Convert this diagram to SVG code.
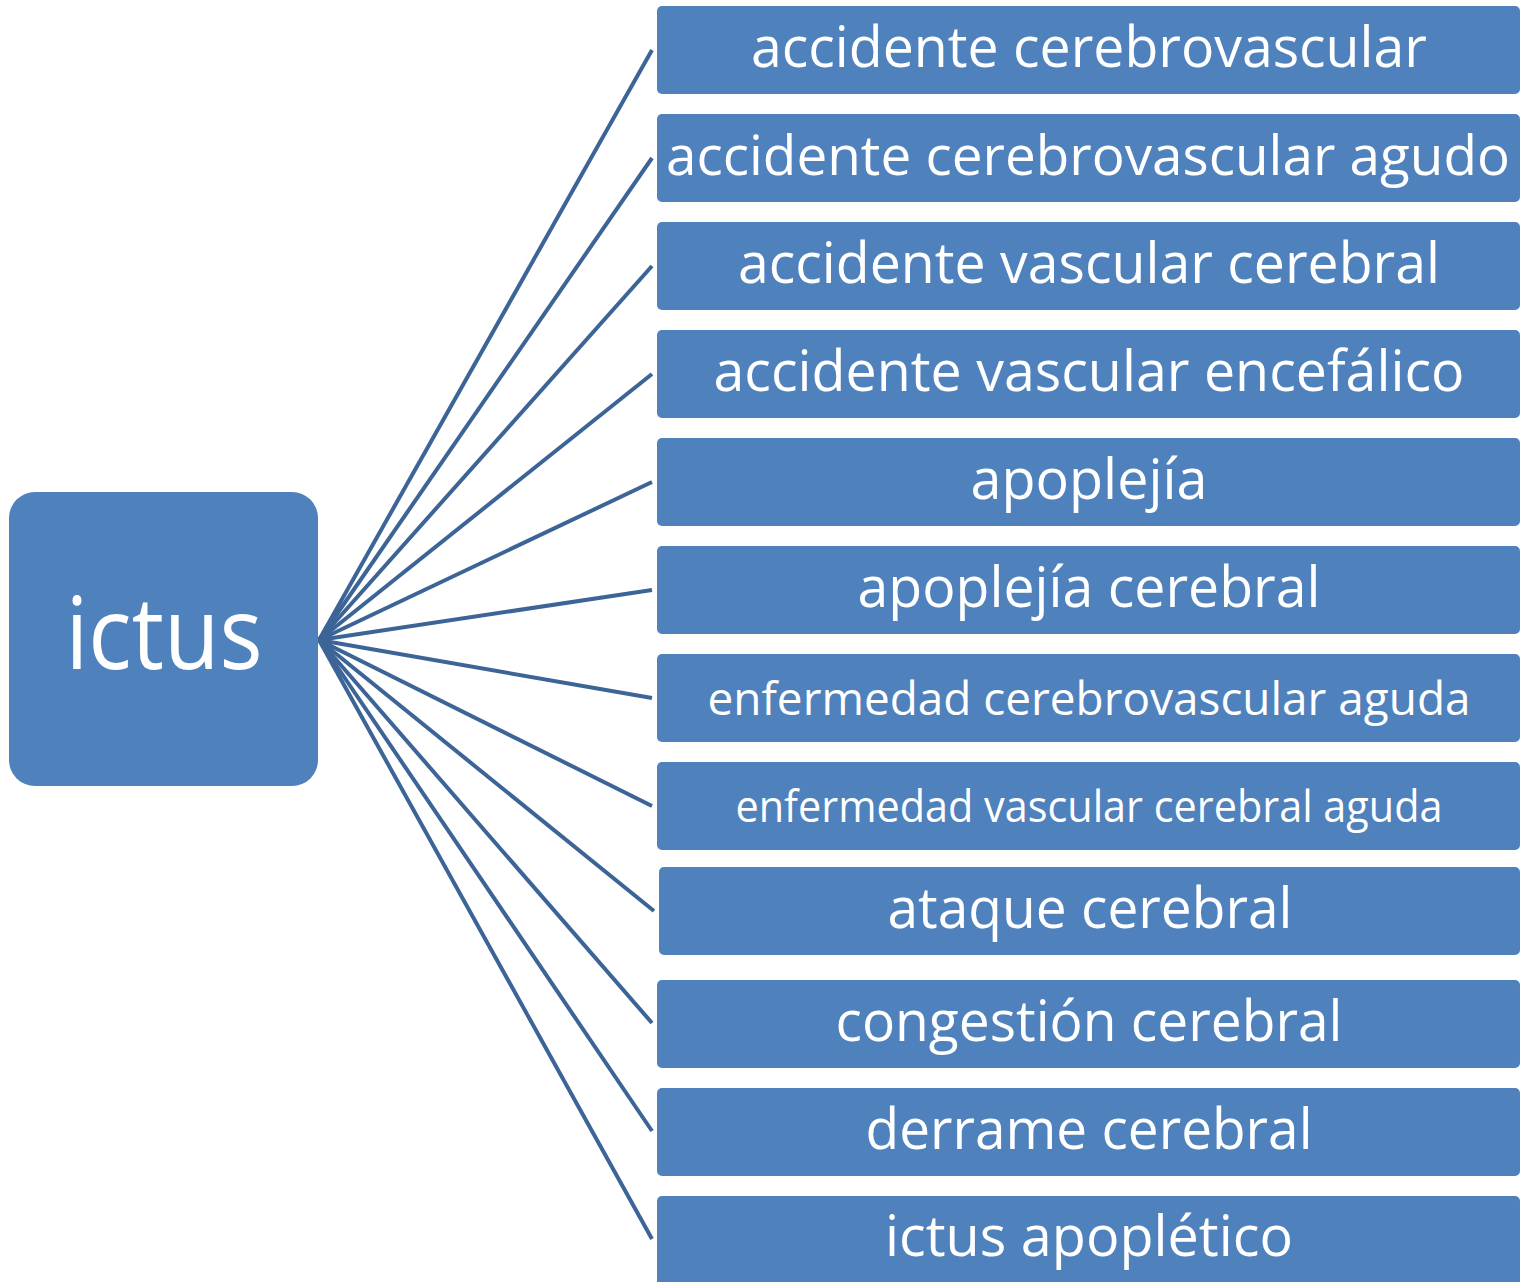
<svg xmlns="http://www.w3.org/2000/svg" width="1521" height="1282" viewBox="0 0 1521 1282">
<style>
.box{fill:#4f81bd;}
.t{fill:#ffffff;font-family:"Open Sans","Noto Sans","Liberation Sans",sans-serif;text-anchor:middle;}
.big{font-size:56px;}
.conn line{stroke:#3d6496;stroke-width:4;}
</style>
<rect width="1521" height="1282" fill="#ffffff"/>
<g id="connectors" class="conn">
<line x1="319" y1="640" x2="652" y2="50"/>
<line x1="319" y1="640" x2="652" y2="158"/>
<line x1="319" y1="640" x2="652" y2="266"/>
<line x1="319" y1="640" x2="652" y2="374"/>
<line x1="319" y1="640" x2="652" y2="482"/>
<line x1="319" y1="640" x2="652" y2="590"/>
<line x1="319" y1="640" x2="652" y2="698"/>
<line x1="319" y1="640" x2="652" y2="806"/>
<line x1="319" y1="640" x2="654" y2="911"/>
<line x1="319" y1="640" x2="652" y2="1023"/>
<line x1="319" y1="640" x2="652" y2="1131"/>
<line x1="319" y1="640" x2="652" y2="1239"/>
</g>
<g id="hub">
<rect class="box" x="9" y="492" width="309" height="294" rx="26"/>
<text class="t" x="164" y="669" font-size="101" textLength="197" lengthAdjust="spacingAndGlyphs">ictus</text>
</g>
<g id="n1"><rect class="box" x="657" y="6" width="863" height="88" rx="5"/><text class="t big" x="1089" y="67" textLength="676" lengthAdjust="spacingAndGlyphs">accidente cerebrovascular</text></g>
<g id="n2"><rect class="box" x="657" y="114" width="863" height="88" rx="5"/><text class="t" x="1088" y="175" font-size="55" textLength="844" lengthAdjust="spacingAndGlyphs">accidente cerebrovascular agudo</text></g>
<g id="n3"><rect class="box" x="657" y="222" width="863" height="88" rx="5"/><text class="t big" x="1089" y="283" textLength="702" lengthAdjust="spacingAndGlyphs">accidente vascular cerebral</text></g>
<g id="n4"><rect class="box" x="657" y="330" width="863" height="88" rx="5"/><text class="t big" x="1089" y="391" textLength="751" lengthAdjust="spacingAndGlyphs">accidente vascular encefálico</text></g>
<g id="n5"><rect class="box" x="657" y="438" width="863" height="88" rx="5"/><text class="t big" x="1089" y="499" textLength="237" lengthAdjust="spacingAndGlyphs">apoplejía</text></g>
<g id="n6"><rect class="box" x="657" y="546" width="863" height="88" rx="5"/><text class="t big" x="1089" y="607" textLength="463" lengthAdjust="spacingAndGlyphs">apoplejía cerebral</text></g>
<g id="n7"><rect class="box" x="657" y="654" width="863" height="88" rx="5"/><text class="t" x="1089" y="715" font-size="45" textLength="763" lengthAdjust="spacingAndGlyphs">enfermedad cerebrovascular aguda</text></g>
<g id="n8"><rect class="box" x="657" y="762" width="863" height="88" rx="5"/><text class="t" x="1089" y="822" font-size="43" textLength="707" lengthAdjust="spacingAndGlyphs">enfermedad vascular cerebral aguda</text></g>
<g id="n9"><rect class="box" x="659" y="867" width="861" height="88" rx="5"/><text class="t big" x="1090" y="928" textLength="405" lengthAdjust="spacingAndGlyphs">ataque cerebral</text></g>
<g id="n10"><rect class="box" x="657" y="980" width="863" height="88" rx="5"/><text class="t big" x="1089" y="1041" textLength="507" lengthAdjust="spacingAndGlyphs">congestión cerebral</text></g>
<g id="n11"><rect class="box" x="657" y="1088" width="863" height="88" rx="5"/><text class="t big" x="1089" y="1149" textLength="447" lengthAdjust="spacingAndGlyphs">derrame cerebral</text></g>
<g id="n12"><rect class="box" x="657" y="1196" width="863" height="92" rx="5"/><text class="t big" x="1089" y="1256" textLength="408" lengthAdjust="spacingAndGlyphs">ictus apoplético</text></g>
</svg>
